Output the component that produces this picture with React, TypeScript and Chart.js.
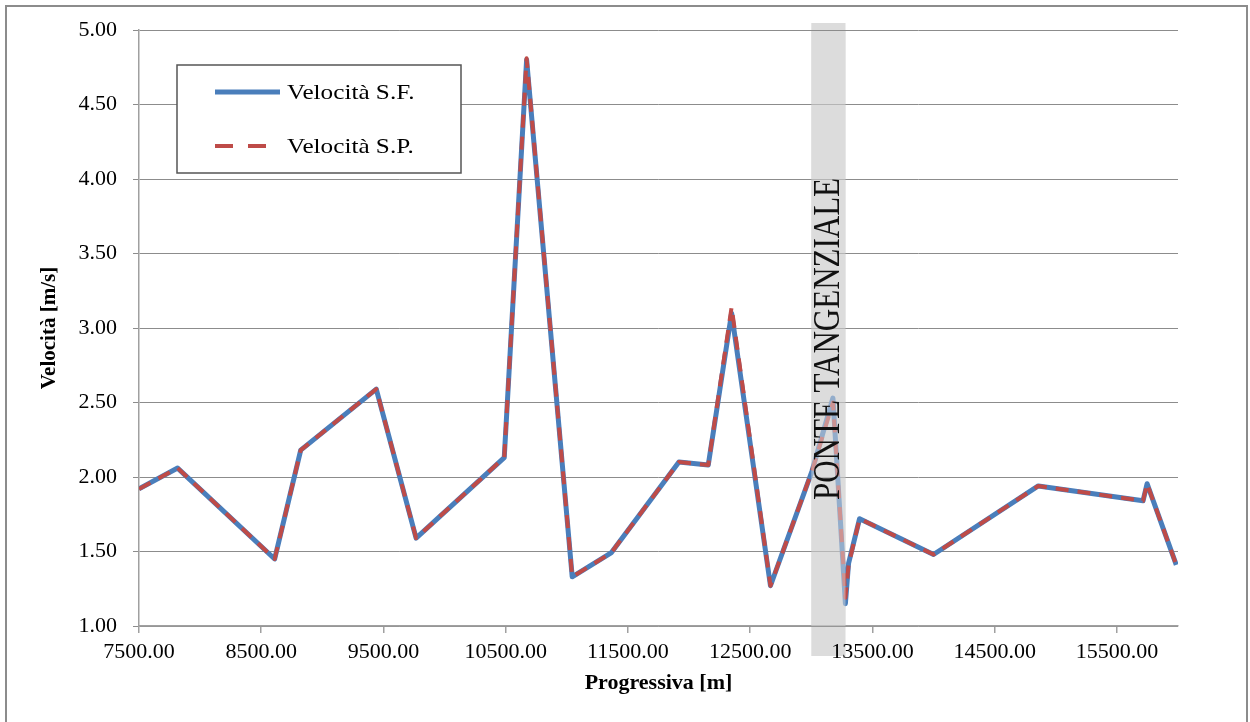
import React, { useEffect, useRef } from "react";
import { Chart, registerables } from "chart.js";

Chart.register(...registerables);

// ---- data ----
const progressiva = [
  7500, 7816, 8610, 8823, 9441, 9767, 10488, 10671, 11044, 11362, 11917, 12157,
  12348, 12666, 13006, 13177, 13279, 13305, 13395, 14000, 14857, 15714, 15747, 15986,
];
const velocitaSF = [
  1.92, 2.06, 1.45, 2.18, 2.59, 1.59, 2.13, 4.8, 1.33, 1.49, 2.1, 2.08,
  3.1, 1.27, 2.04, 2.53, 1.15, 1.42, 1.72, 1.48, 1.94, 1.84, 1.955, 1.41,
];
const velocitaSP = [
  1.92, 2.06, 1.45, 2.18, 2.59, 1.59, 2.13, 4.81, 1.33, 1.49, 2.1, 2.08,
  3.14, 1.27, 2.04, 2.5, 1.19, 1.41, 1.72, 1.48, 1.94, 1.84, 1.955, 1.41,
];
const seriesLabels = ["Velocità S.F.", "Velocità S.P."];
const xTickValues = [7500, 8500, 9500, 10500, 11500, 12500, 13500, 14500, 15500];
const xRange = [7500, 16000];
const yRange = [1, 5];
const yStep = 0.5;
const bandRange = [13000, 13280];
const bandLabel = "PONTE TANGENZIALE";
const xTitle = "Progressiva [m]";
const yTitle = "Velocità [m/s]";

const SERIF = '"Liberation Serif", "Times New Roman", serif';
const BLUE = "#4A7EBB";
const RED = "#BE4B48";

const bandPlugin = {
  id: "bandPlugin",
  beforeDraw(chart: any) {
    const { ctx, chartArea, scales } = chart;
    const x1 = scales.x.getPixelForValue(bandRange[0]);
    const x2 = scales.x.getPixelForValue(bandRange[1]);
    ctx.save();
    ctx.fillStyle = "#DCDCDC";
    ctx.fillRect(x1, chartArea.top - 7, x2 - x1, chartArea.bottom + 30 - (chartArea.top - 7));
    ctx.restore();
  },
  afterDatasetsDraw(chart: any) {
    const { ctx, chartArea, scales } = chart;
    const x1 = scales.x.getPixelForValue(bandRange[0]);
    const x2 = scales.x.getPixelForValue(bandRange[1]);
    ctx.save();
    ctx.fillStyle = "rgba(220,220,220,0.5)";
    ctx.fillRect(x1, chartArea.top + 1, x2 - x1, chartArea.bottom - chartArea.top - 1);
    ctx.translate((x1 + x2) / 2 + 1, chartArea.top + 309);
    ctx.scale(1.2, 1);
    ctx.rotate(-Math.PI / 2);
    ctx.font = "31px " + SERIF;
    ctx.fillStyle = "#111";
    ctx.textAlign = "center";
    ctx.textBaseline = "middle";
    ctx.fillText(bandLabel, 0, 0);
    ctx.restore();
  },
};

const legendPlugin = {
  id: "boxLegend",
  afterDraw(chart: any) {
    const { ctx, chartArea } = chart;
    const left = chartArea.left + 38;
    const top = chartArea.top + 35;
    const w = 284;
    const h = 108;
    ctx.save();
    ctx.fillStyle = "#fff";
    ctx.fillRect(left, top, w, h);
    ctx.strokeStyle = "#555";
    ctx.lineWidth = 1.5;
    ctx.strokeRect(left, top, w, h);
    const rows = [top + 27, top + 81];
    chart.data.datasets.forEach((ds: any, i: number) => {
      const y = rows[i];
      ctx.beginPath();
      ctx.strokeStyle = ds.borderColor;
      ctx.lineWidth = ds.borderWidth;
      ctx.lineCap = "butt";
      ctx.setLineDash(ds.borderDash && ds.borderDash.length ? [18, 15] : []);
      ctx.moveTo(left + 38, y);
      ctx.lineTo(left + 103, y);
      ctx.stroke();
      ctx.setLineDash([]);
      ctx.save();
      ctx.translate(left + 110, y);
      ctx.scale(1.2, 1);
      ctx.font = "21px " + SERIF;
      ctx.fillStyle = "#000";
      ctx.textAlign = "left";
      ctx.textBaseline = "middle";
      ctx.fillText(ds.label, 0, 1);
      ctx.restore();
    });
    ctx.restore();
  },
};

export default function App() {
  const ref = useRef<HTMLCanvasElement>(null);

  useEffect(() => {
    if (!ref.current) return;
    const chart = new Chart(ref.current, {
      type: "line",
      data: {
        datasets: [
          {
            label: seriesLabels[0],
            data: progressiva.map((p, i) => ({ x: p, y: velocitaSF[i] })),
            borderColor: BLUE,
            backgroundColor: BLUE,
            borderWidth: 5,
            borderJoinStyle: "round",
            pointRadius: 0,
            tension: 0,
            fill: false,
            order: 1,
          },
          {
            label: seriesLabels[1],
            data: progressiva.map((p, i) => ({ x: p, y: velocitaSP[i] })),
            borderColor: RED,
            backgroundColor: RED,
            borderWidth: 4,
            borderDash: [13, 9],
            borderJoinStyle: "round",
            pointRadius: 0,
            tension: 0,
            fill: false,
            order: 0,
          },
        ],
      },
      options: {
        responsive: false,
        animation: false,
        events: [],
        layout: { padding: { left: 0, top: 30, right: 72, bottom: 0 } },
        plugins: {
          legend: { display: false },
          tooltip: { enabled: false },
        },
        scales: {
          x: {
            type: "linear",
            min: xRange[0],
            max: xRange[1],
            afterBuildTicks: (s: any) => {
              s.ticks = xTickValues.map((v) => ({ value: v }));
            },
            afterFit: (s: any) => {
              s.height = 96;
            },
            ticks: {
              autoSkip: false,
              maxRotation: 0,
              padding: 6,
              color: "#000",
              font: { family: SERIF, size: 22, lineHeight: 1.2 },
              callback: (v: any) => Number(v).toFixed(2),
            },
            grid: { drawOnChartArea: false, tickLength: 7, color: "#a0a0a0", lineWidth: 1.5 },
            border: { color: "#a0a0a0", width: 1.5 },
            title: {
              display: true,
              text: xTitle,
              color: "#000",
              font: { family: SERIF, size: 22, weight: "bold", lineHeight: 1.2 },
              padding: { top: 0, bottom: 25 },
            },
          },
          y: {
            type: "linear",
            min: yRange[0],
            max: yRange[1],
            afterFit: (s: any) => {
              s.width = 139;
            },
            ticks: {
              stepSize: yStep,
              padding: 16,
              color: "#000",
              font: { family: SERIF, size: 22, lineHeight: 1.2 },
              callback: (v: any) => Number(v).toFixed(2),
            },
            grid: { color: "#8c8c8c", lineWidth: 1, tickLength: 6 },
            border: { color: "#a0a0a0", width: 1.5 },
            title: {
              display: true,
              text: yTitle,
              color: "#000",
              font: { family: SERIF, size: 21, weight: "bold", lineHeight: 1.2 },
              padding: { top: 37, bottom: 0 },
            },
          },
        },
      } as any,
      plugins: [bandPlugin, legendPlugin],
    });
    return () => chart.destroy();
  }, []);

  return (
    <div
      style={{
        position: "absolute",
        left: 0,
        top: 0,
        width: 1250,
        height: 722,
        background: "#fff",
        overflow: "hidden",
      }}
    >
      <div
        style={{
          position: "absolute",
          left: 5,
          top: 5,
          width: 1243,
          height: 740,
          border: "2px solid #8c8c8c",
          boxSizing: "border-box",
        }}
      />
      <canvas
        ref={ref}
        width={1250}
        height={722}
        style={{ position: "absolute", left: 0, top: 0, display: "block" }}
      />
    </div>
  );
}
